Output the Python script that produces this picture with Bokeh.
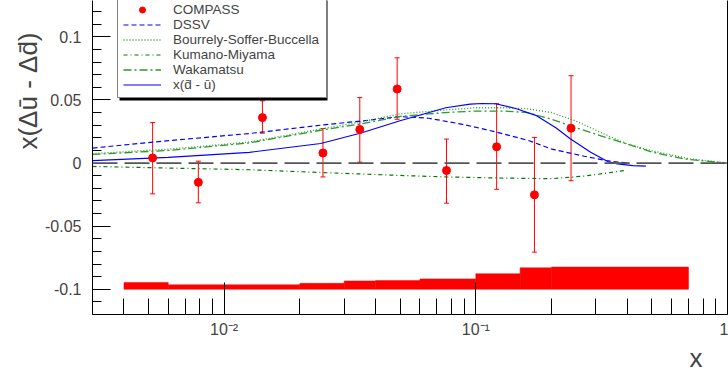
import math
from bokeh.plotting import figure
from bokeh.models import (Span, Whisker, ColumnDataSource, Legend, LegendItem, Title, LinearAxis,
                          FixedTicker, SingleIntervalTicker, CustomJSTickFormatter, TeeHead, Range1d,
                          BoxAnnotation)
from bokeh.embed import file_html
from bokeh.resources import INLINE

FONT = "Liberation Sans"

# ---- COMPASS points ----
pt_x = [0.0052, 0.0079, 0.0142, 0.0247, 0.0346, 0.0487, 0.0765, 0.121, 0.171, 0.239]
pt_y = [0.0041, -0.0153, 0.036, 0.008, 0.0266, 0.0587, -0.0059, 0.0129, -0.0252, 0.0276]
err_up = [0.028, 0.0168, 0.0133, 0.0194, 0.0254, 0.0247, 0.0249, 0.0341, 0.0455, 0.0416]
err_dn = [0.0285, 0.0162, 0.0123, 0.019, 0.0259, 0.024, 0.0259, 0.0337, 0.0454, 0.0416]

# ---- systematic band ----
bin_lo = [0.004, 0.006, 0.01, 0.02, 0.03, 0.04, 0.06, 0.1, 0.15, 0.2]
bin_hi = [0.006, 0.01, 0.02, 0.03, 0.04, 0.06, 0.1, 0.15, 0.2, 0.7]
sys_err = [0.0053, 0.0035, 0.0035, 0.0047, 0.0066, 0.0070, 0.0082, 0.0123, 0.0170, 0.0176]
band_base = -0.1

# ---- model curves ----
dssv_x = [0.003, 0.006, 0.0126, 0.0242, 0.035, 0.05, 0.065, 0.0886, 0.12, 0.163, 0.2, 0.27, 0.33, 0.37, 0.41]
dssv_y = [0.0119, 0.0177, 0.0234, 0.030, 0.0333, 0.0368, 0.0355, 0.0307, 0.0247, 0.0177, 0.0111, 0.0054, 0.002, 0.0007, 0.0]

bsb_x = [0.003, 0.006, 0.0126, 0.0242, 0.035, 0.05, 0.075, 0.1, 0.13, 0.16, 0.2, 0.25, 0.314, 0.4, 0.5, 0.7, 1.0]
bsb_y = [0.0075, 0.011, 0.0166, 0.027, 0.0326, 0.039, 0.042, 0.0438, 0.0438, 0.043, 0.040, 0.0333, 0.0242, 0.015, 0.0098, 0.0035, 0.0]

km_x = [0.003, 0.0126, 0.0242, 0.05, 0.076, 0.12, 0.2, 0.27, 0.33, 0.39]
km_y = [-0.0027, -0.0053, -0.0075, -0.0098, -0.011, -0.0118, -0.0124, -0.0103, -0.0080, -0.0059]

wak_x = [0.003, 0.006, 0.0126, 0.0242, 0.035, 0.05, 0.075, 0.1, 0.13, 0.16, 0.2, 0.25, 0.314, 0.42, 0.5, 0.67, 1.0]
wak_y = [0.0068, 0.010, 0.016, 0.026, 0.031, 0.037, 0.040, 0.0412, 0.0412, 0.040, 0.0347, 0.028, 0.0216, 0.0137, 0.0088, 0.0033, 0.0]

dbu_x = [0.003, 0.006, 0.0126, 0.0242, 0.035, 0.05, 0.076, 0.095, 0.106, 0.12, 0.145, 0.173, 0.208, 0.238, 0.286, 0.334, 0.366, 0.42, 0.474]
dbu_y = [0.002, 0.0045, 0.0085, 0.0155, 0.0238, 0.0335, 0.0438, 0.0467, 0.0472, 0.047, 0.043, 0.0378, 0.028, 0.019, 0.0085, 0.0012, -0.0006, -0.002, -0.0024]

x_major = [0.01, 0.1, 1.0]
x_minor = [m * d for d in (0.001, 0.01, 0.1) for m in range(2, 10)]

p = figure(width=728, height=372, x_axis_type="log",
           x_range=Range1d(0.003, 1.0), y_range=Range1d(-0.12, 0.1288),
           output_backend="svg", toolbar_location=None,
           min_border_left=92, min_border_right=1, min_border_top=0, min_border_bottom=55)
p.outline_line_color = None
p.grid.visible = False

# band
p.quad(left=bin_lo, right=bin_hi, bottom=[band_base] * len(sys_err),
       top=[band_base + s for s in sys_err], fill_color="#ff0000", line_color="#ff0000", line_width=0.5)

p.add_layout(Span(location=0, dimension="width", line_color="#555555", line_width=1.8, line_dash="25 7"))

r_dssv = p.line(dssv_x, dssv_y, line_color="#0000ff", line_width=1.2, line_dash="5 3")
r_bsb = p.line(bsb_x, bsb_y, line_color="#2a9a2a", line_width=1.3, line_dash="1 2")
r_km = p.line(km_x, km_y, line_color="#007a00", line_width=1.2, line_dash="4 3 1 3")
r_wak = p.line(wak_x, wak_y, line_color="#2a9a2a", line_width=1.3, line_dash="8 3 2 3")
r_dbu = p.line(dbu_x, dbu_y, line_color="#0000ff", line_width=1.2)

src = ColumnDataSource(dict(x=pt_x, y=pt_y,
                            upper=[y + e for y, e in zip(pt_y, err_up)],
                            lower=[y - e for y, e in zip(pt_y, err_dn)]))
p.add_layout(Whisker(source=src, base="x", upper="upper", lower="lower",
                     line_color="#ff0000", line_width=1,
                     upper_head=TeeHead(size=5, line_color="#ff0000", line_width=1),
                     lower_head=TeeHead(size=5, line_color="#ff0000", line_width=1)))
r_pts = p.scatter("x", "y", source=src, marker="circle", size=8, fill_color="#ff0000", line_color="#ff0000")

# axes
xa = p.xaxis[0]
xa.ticker = FixedTicker(ticks=x_major, minor_ticks=x_minor)
xa.formatter = CustomJSTickFormatter(code="""
const e = Math.round(Math.log10(tick));
if (e == 0) return '1';
const sup = {'-1': '\u207b\u00b9', '-2': '\u207b\u00b2', '-3': '\u207b\u00b3'};
return '10' + sup[String(e)];
""")
xa.major_tick_in = 32
xa.major_tick_out = 0
xa.minor_tick_in = 16
xa.minor_tick_out = 0
xa.major_label_standoff = 6
xa.major_label_text_font = FONT
xa.major_label_text_font_size = "16px"
xa.axis_line_color = "black"

ya = p.yaxis[0]
ya.ticker = SingleIntervalTicker(interval=0.05, num_minor_ticks=5)
ya.formatter = CustomJSTickFormatter(code="return String(Math.round(tick*100)/100 + 0);")
ya.major_tick_in = 18
ya.major_tick_out = 0
ya.minor_tick_in = 9
ya.minor_tick_out = 0
ya.major_label_standoff = 11
ya.major_label_text_font = FONT
ya.major_label_text_font_size = "16px"
ya.axis_line_color = "black"

# right frame line
ra = LinearAxis(ticker=FixedTicker(ticks=[]), major_label_standoff=0,
                major_tick_out=0, major_tick_in=0, minor_tick_out=0, minor_tick_in=0,
                major_label_text_font_size="0px", axis_line_color="black")
p.add_layout(ra, "right")

# axis titles
p.add_layout(Title(text="x(\u0394\u016b - \u0394d\u0304)", align="right", offset=32, standoff=0,
                   text_font=FONT, text_font_size="26px", text_font_style="normal"), "left")
p.add_layout(Title(text="x", align="right", offset=25, standoff=0,
                   text_font=FONT, text_font_size="26px", text_font_style="normal"), "below")

# legend shadow + legend
p.add_layout(BoxAnnotation(left=27, right=235, bottom=214, top=330,
                           left_units="screen", right_units="screen",
                           top_units="screen", bottom_units="screen",
                           fill_color="black", fill_alpha=1.0, line_color=None))

legend = Legend(items=[
    LegendItem(label="COMPASS", renderers=[r_pts]),
    LegendItem(label="DSSV", renderers=[r_dssv]),
    LegendItem(label="Bourrely-Soffer-Buccella", renderers=[r_bsb]),
    LegendItem(label="Kumano-Miyama", renderers=[r_km]),
    LegendItem(label="Wakamatsu", renderers=[r_wak]),
    LegendItem(label="x(d\u0304 - \u016b)", renderers=[r_dbu]),
], location=(25, 216), border_line_color="black", border_line_width=1,
    background_fill_color="white", background_fill_alpha=1.0,
    padding=5, spacing=0, margin=0, label_height=15, glyph_height=15, glyph_width=38,
    label_width=148, label_standoff=12, label_text_font=FONT, label_text_font_size="13.5px",
    label_text_baseline="middle")
p.add_layout(legend, "center")

open("out.html", "w").write(file_html(p, INLINE))
